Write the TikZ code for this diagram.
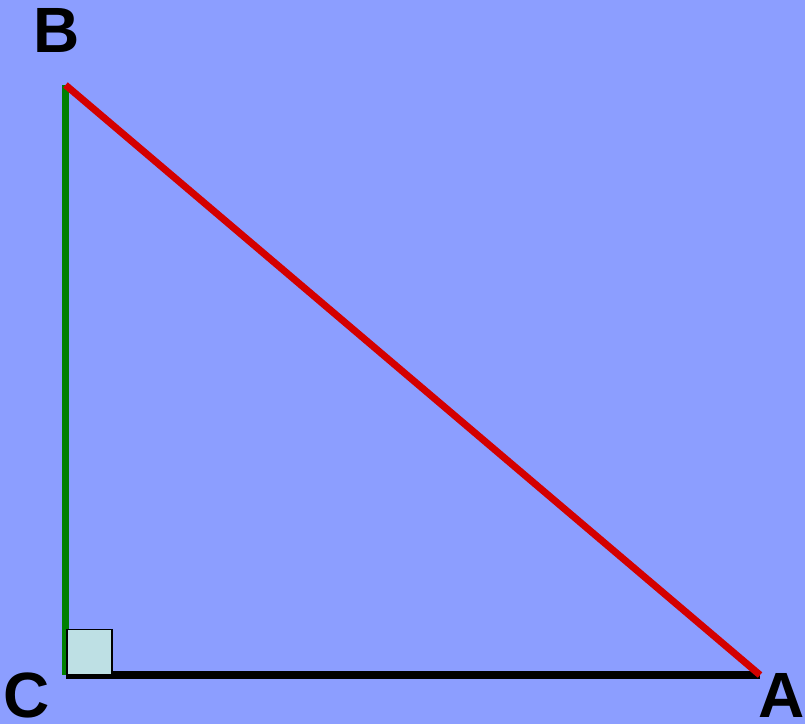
\documentclass[tikz,border=0pt]{standalone}
\usepackage{fontspec}
\setmainfont{Liberation Sans}
\definecolor{bgblue}{RGB}{140,158,255}
\definecolor{hypred}{RGB}{212,0,0}
\definecolor{leggreen}{RGB}{0,128,0}
\definecolor{sqfill}{RGB}{190,224,228}
\tikzset{
  vlabel/.style={inner sep=0pt, font=\fontsize{64}{64}\selectfont\bfseries},
  side/.style={line width=7pt, line cap=butt}
}
\begin{document}
\begin{tikzpicture}[x=1pt,y=-1pt]
\fill[bgblue] (0,0) rectangle (805,724);
\useasboundingbox (0,0) rectangle (805,724);
\coordinate (B) at (65.5,85);
\coordinate (C) at (65.5,675);
\coordinate (A) at (760,675);
\draw[side, leggreen] (B) -- (C);
\draw[side, black, line width=8pt] (C) -- (A);
\draw[side, hypred] (B) -- (A);
\node[draw=black, line width=1.5pt, fill=sqfill, minimum size=45pt, inner sep=0pt, anchor=south west] (sq) at (66,675) {};
\node[vlabel] (lB) at (57,30) {B};
\node[vlabel] (lC) at (26.5,695.5) {C};
\node[vlabel] (lA) at (782,695.5) {A};
\end{tikzpicture}
\end{document}
